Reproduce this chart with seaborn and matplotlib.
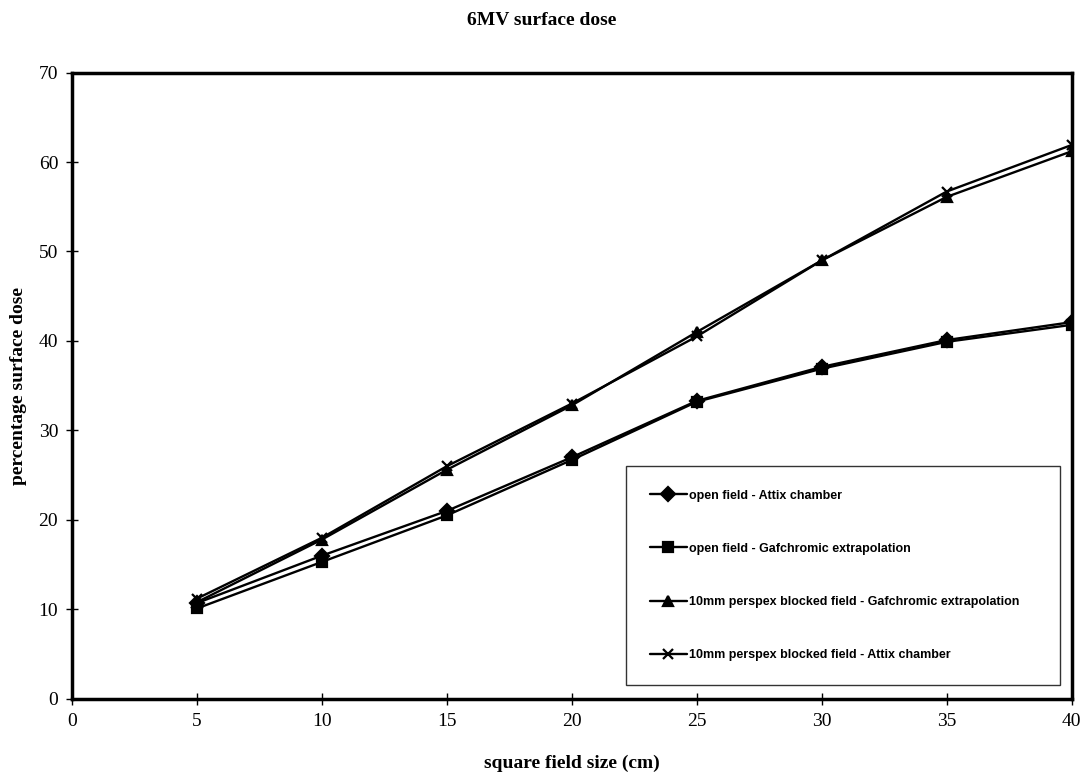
import numpy as np
import pandas as pd
import matplotlib
matplotlib.use('Agg')
import matplotlib.pyplot as plt
import seaborn as sns

# data
field_size = [5, 10, 15, 20, 25, 30, 35, 40]
open_attix = [10.7, 16.0, 21.0, 27.0, 33.3, 37.1, 40.1, 42.1]
open_gaf = [10.1, 15.3, 20.5, 26.7, 33.2, 36.9, 39.9, 41.8]
blocked_gaf = [10.8, 17.8, 25.6, 32.8, 41.0, 49.0, 56.1, 61.2]
blocked_attix = [11.2, 18.0, 26.0, 33.0, 40.5, 49.0, 56.7, 61.9]

labels = ['open field - Attix chamber',
          'open field - Gafchromic extrapolation',
          '10mm perspex blocked field - Gafchromic extrapolation',
          '10mm perspex blocked field - Attix chamber']
series = [open_attix, open_gaf, blocked_gaf, blocked_attix]
markers = ['D', 's', '^', 'x']

sns.set_theme(style='white', rc={'text.color': 'black', 'axes.labelcolor': 'black'})
plt.rcParams['font.family'] = ['Liberation Serif', 'DejaVu Serif']

fig = plt.figure(figsize=(10.83, 7.76), dpi=100)
ax = fig.add_axes([0.0665, 0.0995, 0.923, 0.807])

for lab, vals, mk in zip(labels, series, markers):
    sns.lineplot(x=field_size, y=vals, label=lab, color='black',
                 marker=mk, linewidth=1.7, markersize=7, markeredgewidth=1.6,
                 markeredgecolor='black', ax=ax)

ax.set_xlim(0, 40)
ax.set_ylim(0, 70)
ax.set_xticks(range(0, 41, 5))
ax.set_yticks(range(0, 71, 10))
ax.tick_params(axis='both', direction='inout', length=8, width=1,
               color='black', labelsize=14, labelcolor='black', pad=6,
               bottom=True, left=True)
for sp in ax.spines.values():
    sp.set_color('black')
    sp.set_linewidth(2.5)

ax.set_xlabel('square field size (cm)', fontsize=14, fontweight='bold', labelpad=18)
ax.set_ylabel('percentage surface dose', fontsize=14, fontweight='bold', labelpad=8)
fig.suptitle('6MV surface dose', fontsize=14, fontweight='bold', y=0.985)

leg = ax.legend(loc='lower left', bbox_to_anchor=(0.554, 0.022, 0.434, 0),
                mode='expand', frameon=True, fancybox=False, edgecolor='black',
                prop={'family': 'Liberation Sans', 'size': 9, 'weight': 'bold'},
                labelspacing=3.3, borderpad=1.9, handlelength=3.0,
                handletextpad=0.15, borderaxespad=0)
leg.get_frame().set_linewidth(1)

fig.savefig('out.png', dpi=100)
